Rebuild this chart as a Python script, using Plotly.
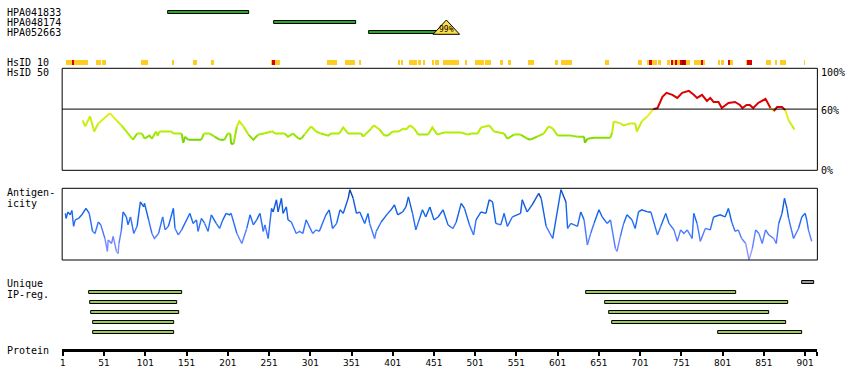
import plotly.graph_objects as go

W, H = 850, 390

# ---------------- data ----------------
hpa_names = ["HPA041833", "HPA048174", "HPA052663"]
hpa_start = [129, 257, 372]
hpa_end = [227, 357, 466]
hpa_score_label = "99%"

# HsID 10 track: start, end, level (0 = gold, 1 = red, 2 = dark red)
hsid10_start = [5, 12, 15, 41, 49, 97, 100, 133, 159, 162, 182, 254, 255, 259, 322, 343, 360,
                407, 411, 421, 432, 438, 449, 453, 462, 489, 501, 513, 531, 542, 565, 599, 605,
                611, 659, 699, 709, 712, 715, 723, 734, 738, 742, 744, 746, 750, 752, 756, 757,
                767, 772, 775, 778, 796, 799, 808, 810, 830, 831, 854, 865, 871, 900]
hsid10_end = [12, 15, 32, 47, 53, 99, 104, 136, 161, 164, 184, 255, 259, 264, 334, 355, 363,
              410, 414, 430, 435, 440, 451, 457, 482, 491, 512, 520, 535, 544, 573, 601, 611,
              618, 663, 704, 712, 715, 721, 727, 737, 742, 744, 746, 750, 752, 756, 757, 762,
              772, 775, 778, 779, 798, 803, 810, 814, 831, 837, 860, 867, 878, 901]
hsid10_level = [0, 1, 0, 0, 0, 0, 0, 0, 0, 0, 0, 0, 1, 0, 0, 0, 0,
                0, 0, 0, 0, 0, 0, 0, 0, 0, 0, 0, 0, 0, 0, 0, 0,
                0, 0, 0, 0, 1, 0, 0, 0, 1, 0, 1, 0, 1, 2, 1, 0,
                0, 0, 1, 0, 0, 0, 1, 0, 0, 1, 0, 0, 0, 0]

# HsID 50 conservation (%)
cons_res = [25, 28, 34, 39, 44, 58, 66, 72, 86, 91,
            97, 100, 106, 109, 114, 116, 118, 133, 135, 145,
            147, 149, 153, 169, 172, 179, 185, 191, 197, 201,
            204, 205, 208, 212, 215, 220, 226, 232, 238, 245,
            254, 256, 258, 270, 274, 280, 287, 290, 294, 302,
            308, 314, 323, 326, 330, 336, 341, 347, 363, 365,
            375, 378, 385, 391, 395, 401, 408, 414, 417, 422,
            427, 432, 444, 449, 455, 463, 484, 492, 496, 504,
            508, 518, 524, 536, 540, 548, 556, 564, 568, 576,
            584, 590, 595, 601, 617, 625, 633, 634, 637, 645,
            665, 667, 669, 677, 681, 689, 695, 697, 703, 710,
            717, 722, 728, 733, 740, 746, 752, 760, 766, 770,
            776, 782, 786, 790, 796, 800, 808, 816, 822, 825,
            830, 834, 838, 844, 853, 859, 863, 867, 873, 877,
            881, 885, 888]
cons_pct = [49, 43, 53, 38, 46, 56, 49, 44, 30, 36,
            36, 31, 34, 31, 38, 34, 38, 38, 36, 36,
            27, 33, 30, 30, 36, 36, 33, 30, 30, 36,
            36, 26, 26, 43, 48, 43, 35, 30, 35, 36,
            38, 38, 36, 36, 33, 36, 31, 31, 35, 43,
            38, 36, 34, 36, 36, 36, 42, 36, 36, 33,
            41, 44, 40, 34, 34, 38, 38, 41, 40, 44,
            41, 35, 35, 42, 35, 37, 37, 35, 36, 36,
            42, 44, 38, 36, 31, 35, 35, 31, 30, 33,
            36, 43, 41, 34, 34, 33, 33, 27, 31, 32,
            32, 37, 48, 46, 44, 46, 46, 38, 48, 53,
            60, 61, 72, 76, 74, 71, 76, 78, 74, 71,
            74, 68, 71, 67, 67, 61, 66, 67, 64, 61,
            64, 64, 61, 66, 70, 61, 58, 62, 62, 59,
            49, 44, 40]

# Antigenicity (relative score, 0-100)
anti_res = [4, 5, 7, 10, 12, 14, 16, 20, 24, 29, 33, 37, 40, 44, 47, 52, 55, 56, 60, 62,
            66, 68, 69, 72, 74, 78, 80, 83, 87, 91, 95, 99, 100, 105, 109, 112, 117, 122, 125, 129,
            135, 137, 141, 145, 155, 159, 163, 165, 169, 173, 177, 181, 187, 191, 195, 199, 203, 205, 212, 218,
            224, 228, 232, 236, 240, 244, 246, 250, 254, 256, 260, 262, 266, 268, 272, 274, 278, 284, 288, 292,
            296, 298, 304, 308, 312, 320, 324, 328, 333, 337, 341, 347, 349, 353, 357, 361, 367, 371, 373, 379,
            381, 387, 395, 399, 403, 407, 413, 417, 420, 425, 429, 433, 437, 441, 446, 451, 456, 462, 468, 474,
            478, 484, 488, 494, 499, 502, 508, 514, 518, 522, 526, 532, 536, 540, 546, 556, 558, 564, 570, 578,
            581, 587, 595, 605, 611, 613, 617, 625, 629, 633, 637, 641, 645, 651, 655, 661, 665, 671, 673, 677,
            681, 685, 691, 695, 699, 703, 710, 714, 722, 726, 732, 736, 742, 746, 750, 754, 758, 764, 766, 770,
            774, 780, 786, 790, 798, 804, 808, 812, 816, 820, 824, 829, 833, 837, 841, 845, 849, 853, 857, 863,
            866, 869, 873, 876, 879, 881, 887, 893, 897, 901, 903, 905, 909]
anti_val = [65, 58, 67, 63, 69, 47, 56, 58, 63, 72, 65, 40, 37, 53, 49, 30, 12, 28, 23, 33,
            12, 9, 23, 42, 67, 60, 49, 60, 37, 47, 81, 74, 79, 56, 37, 30, 37, 60, 42, 47,
            72, 44, 35, 42, 65, 51, 56, 40, 58, 51, 40, 63, 51, 44, 56, 65, 63, 65, 37, 23,
            44, 63, 49, 56, 65, 40, 49, 30, 72, 67, 84, 67, 86, 65, 74, 56, 53, 37, 40, 37,
            56, 51, 37, 42, 40, 63, 70, 44, 51, 70, 65, 86, 98, 86, 65, 67, 51, 65, 51, 30,
            40, 53, 65, 70, 77, 63, 67, 74, 88, 65, 42, 56, 70, 60, 74, 56, 60, 70, 49, 44,
            53, 79, 72, 49, 35, 56, 67, 65, 84, 81, 51, 49, 65, 47, 60, 65, 84, 67, 77, 93,
            86, 47, 30, 98, 81, 44, 51, 47, 67, 56, 21, 37, 51, 70, 60, 51, 56, 16, 12, 33,
            51, 63, 56, 44, 67, 70, 67, 67, 35, 47, 65, 51, 42, 26, 42, 37, 42, 30, 65, 51,
            26, 44, 42, 60, 63, 60, 72, 53, 40, 42, 30, 23, 0, 16, 42, 37, 23, 42, 35, 30,
            23, 51, 65, 86, 72, 58, 30, 44, 60, 65, 56, 42, 26]

# Unique IP-regions
ip_start = [33, 34, 35, 38, 38, 636, 659, 663, 667, 795]
ip_end = [146, 140, 142, 136, 136, 817, 880, 857, 878, 898]
ip_row = [0, 1, 2, 3, 4, 0, 1, 2, 3, 4]
unique_start = [897]
unique_end = [912]

protein_length = 915
tick_vals = [1, 51, 101, 151, 201, 251, 301, 351, 401, 451, 501, 551, 601, 651, 701, 751, 801, 851, 901]

assert len(cons_res) == len(cons_pct)
assert len(anti_res) == len(anti_val)
assert len(hsid10_start) == len(hsid10_end) == len(hsid10_level)

# ---------------- layout helpers ----------------
PX_PER_RES = 0.82667
X0_PX, X1_PX = 60.3, 817.3
x_range = [1 - (61 - X0_PX) / PX_PER_RES, 1 + (X1_PX - 61) / PX_PER_RES]
MONO = "DejaVu Sans Mono"


def dom(top_px, bottom_px):
    return [1 - bottom_px / H, 1 - top_px / H]


def interp_color(v, stops):
    if v <= stops[0][0]:
        c = stops[0][1]
    elif v >= stops[-1][0]:
        c = stops[-1][1]
    else:
        for (a, ca), (b, cb) in zip(stops[:-1], stops[1:]):
            if a <= v <= b:
                t = (v - a) / (b - a)
                c = tuple(round(ca[k] + (cb[k] - ca[k]) * t) for k in range(3))
                break
    return "rgb(%d,%d,%d)" % c


def cons_color(p):
    if p >= 60:
        return "rgb(221,0,0)"
    return interp_color(p, [(25, (85, 187, 0)), (30, (119, 212, 0)), (36, (170, 238, 0)),
                            (46, (204, 238, 17)), (56, (238, 238, 34))])


def anti_color(v):
    return interp_color(v, [(0, (170, 170, 255)), (20, (119, 136, 255)), (40, (68, 119, 255)),
                            (60, (17, 102, 238)), (85, (17, 85, 204)), (100, (0, 51, 136))])


def colored_line(xs, ys, colfn, yaxis, width):
    traces = []
    cur_c, cx, cy = None, [], []
    for i in range(len(xs) - 1):
        c = colfn((ys[i] + ys[i + 1]) / 2)
        if c != cur_c:
            if cx:
                traces.append(go.Scatter(x=cx, y=cy, mode="lines", yaxis=yaxis,
                                         line=dict(color=cur_c, width=width), hoverinfo="skip"))
            cur_c, cx, cy = c, [xs[i]], [ys[i]]
        cx.append(xs[i + 1])
        cy.append(ys[i + 1])
    if cx:
        traces.append(go.Scatter(x=cx, y=cy, mode="lines", yaxis=yaxis,
                                 line=dict(color=cur_c, width=width), hoverinfo="skip"))
    return traces


fig = go.Figure()

# conservation line
for t in colored_line(cons_res, cons_pct, cons_color, "y", 2):
    fig.add_trace(t)
# antigenicity line
for t in colored_line(anti_res, anti_val, anti_color, "y2", 1.4):
    fig.add_trace(t)

# track rows (y3 in pixel rows)
HPA_ROWS = [12.3, 22.4, 32.3]
HSID10_ROW = 62.3
IP_ROWS = [292.3, 302.3, 312.3, 322.3, 332.3]
UNIQUE_ROW = 282.3

fig.add_trace(go.Bar(orientation="h", base=hpa_start, x=[e - s for s, e in zip(hpa_start, hpa_end)],
                     y=HPA_ROWS, width=3.2, yaxis="y3",
                     marker=dict(color="#22AA22", line=dict(color="black", width=1)), hoverinfo="skip"))

lvl_colors = ["#FFCC22", "#DD0000", "#AA0000"]
fig.add_trace(go.Bar(orientation="h", base=hsid10_start,
                     x=[e - s for s, e in zip(hsid10_start, hsid10_end)],
                     y=[HSID10_ROW] * len(hsid10_start), width=4.6, yaxis="y3",
                     marker=dict(color=[lvl_colors[l] for l in hsid10_level], line=dict(width=0)),
                     hoverinfo="skip"))

fig.add_trace(go.Bar(orientation="h", base=ip_start, x=[e - s for s, e in zip(ip_start, ip_end)],
                     y=[IP_ROWS[r] for r in ip_row], width=3.2, yaxis="y3",
                     marker=dict(color="#99CC55", line=dict(color="black", width=1)), hoverinfo="skip"))
fig.add_trace(go.Bar(orientation="h", base=unique_start, x=[e - s for s, e in zip(unique_start, unique_end)],
                     y=[UNIQUE_ROW], width=3.2, yaxis="y3",
                     marker=dict(color="#999999", line=dict(color="black", width=1)), hoverinfo="skip"))

# score triangle at end of last HPA bar
tri_half = 13.3 / PX_PER_RES
tri_c = hpa_end[2]
fig.add_trace(go.Scatter(x=[tri_c - tri_half, tri_c, tri_c + tri_half, tri_c - tri_half],
                         y=[34.3, 20.0, 34.3, 34.3], yaxis="y3", mode="lines", fill="toself",
                         fillcolor="#FFDD44", line=dict(color="black", width=1), hoverinfo="skip"))

shapes = [
    dict(type="rect", xref="x domain", yref="y domain", x0=0, x1=1, y0=0, y1=1,
         line=dict(color="black", width=1)),
    dict(type="line", xref="x domain", yref="y", x0=0, x1=1, y0=60, y1=60,
         line=dict(color="black", width=1)),
    dict(type="rect", xref="x domain", yref="y2 domain", x0=0, x1=1, y0=0, y1=1,
         line=dict(color="black", width=1)),
]

annotations = []


def left_label(text, ypx):
    annotations.append(dict(text=text, x=3 / W, xref="paper", xanchor="left", y=ypx, yref="y3",
                            yanchor="middle", showarrow=False, font=dict(family=MONO, size=10, color="black")))


for name, row in zip(hpa_names, HPA_ROWS):
    left_label(name, row)
left_label("HsID 10", 62.3)
left_label("HsID 50", 72.5)
left_label("Antigen-", 192.8)
left_label("icity", 203.3)
left_label("Unique", 283)
left_label("IP-reg.", 294)
left_label("Protein", 350)

for txt, yv, ys in [("100%", 100, -4), ("60%", 60, -1), ("0%", 0, 0)]:
    annotations.append(dict(text=txt, x=819 / W, xref="paper", xanchor="left", y=yv, yref="y",
                            yanchor="middle", yshift=ys, showarrow=False,
                            font=dict(family=MONO, size=10, color="black")))

annotations.append(dict(text=hpa_score_label, x=tri_c, xref="x", y=29.8, yref="y3", showarrow=False,
                        xanchor="center", yanchor="middle", font=dict(family=MONO, size=8, color="black")))

fig.update_layout(
    width=W, height=H, margin=dict(l=0, r=0, t=0, b=0),
    paper_bgcolor="white", plot_bgcolor="rgba(0,0,0,0)",
    showlegend=False, barmode="overlay", bargap=0,
    shapes=shapes, annotations=annotations,
    xaxis=dict(domain=[X0_PX / W, X1_PX / W], range=x_range, anchor="free", position=1 - 349.5 / H,
               showline=True, linecolor="black", linewidth=3, showgrid=False, zeroline=False,
               ticks="outside", ticklen=4, tickwidth=2, tickcolor="black",
               tickvals=tick_vals + [protein_length],
               ticktext=[str(v) for v in tick_vals] + [""],
               tickfont=dict(family="DejaVu Sans", size=9, color="black")),
    yaxis=dict(domain=dom(68.3, 170.3), range=[0, 100], visible=False, anchor="x"),
    yaxis2=dict(domain=dom(188.3, 260), range=[0, 100], visible=False, anchor="x"),
    yaxis3=dict(domain=[0, 1], range=[H, 0], visible=False, anchor="x"),
)

fig.write_html("out.html", config={"displayModeBar": False},
               post_script="document.body.style.margin='0';document.body.style.padding='0';")
